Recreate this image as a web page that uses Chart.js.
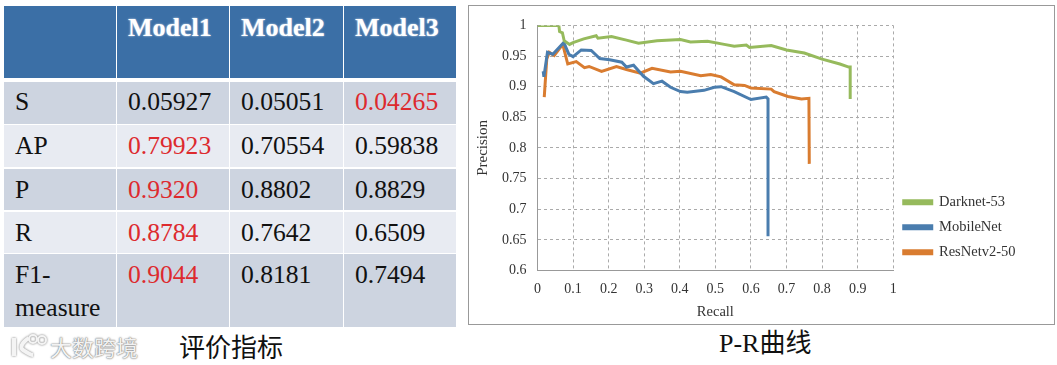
<!DOCTYPE html>
<html><head><meta charset="utf-8">
<script src="https://cdn.jsdelivr.net/npm/chart.js@4/dist/chart.umd.min.js"></script>
<style>
html,body{margin:0;padding:0;background:#fff;width:1057px;height:365px;overflow:hidden}
body{position:relative;font-family:"Liberation Serif",serif}
#tbl div{position:absolute;box-sizing:border-box;font-size:25.6px;line-height:33px;color:#111;padding:3px 6px 0 11px;background:#CDD4E0}
#tbl .h{background:#3B6FA6;color:#fff;font-weight:bold;font-size:26px;padding-top:5px;text-shadow:0 0 2px #dfe8f3}
#tbl .alt{background:#E8EBF2}
#tbl .r{color:#DD2A2E}
#frame{position:absolute;left:468px;top:5px;width:585px;height:318px;border:1.5px solid #999;background:#fff}
#frame canvas{display:block}
.cap{position:absolute;font-size:26px;color:#111;font-family:"Liberation Serif","Noto Sans CJK SC",serif;white-space:nowrap;line-height:30px}
#wm{position:absolute;left:50px;top:333px;font:22px/26px "Noto Sans CJK SC",sans-serif;color:#f2f2f2;text-shadow:0 0 2px #777,0 0 1px #777;white-space:nowrap}
#logo{position:absolute;left:9px;top:332px}
</style></head><body>
<div id="tbl"></div>
<div id="frame"><canvas id="c" width="585" height="318"></canvas></div>
<div class="cap" style="left:179px;top:334px">评价指标</div>
<div class="cap" style="left:719px;top:329px">P-R曲线</div>
<svg id="logo" width="44" height="28" fill="none" stroke="#f4f4f4" style="filter:drop-shadow(0 0 1px #777)"><path d="M5 6v18M20 6c-8 5-9 10-6 12s8 5 10 5" stroke-width="4"/><circle cx="24" cy="7" r="4" stroke-width="2"/><circle cx="33" cy="8" r="4" stroke-width="2"/></svg>
<div id="wm">大数跨境</div>
<script>
const modelNames = ["Model1","Model2","Model3"];
const metricNames = ["S","AP","P","R","F1-measure"];
const model1Scores = ["0.05927","0.79923","0.9320","0.8784","0.9044"];
const model2Scores = ["0.05051","0.70554","0.8802","0.7642","0.8181"];
const model3Scores = ["0.04265","0.59838","0.8829","0.6509","0.7494"];
const bestModelIndex = [2,0,0,0,0];

const seriesNames = ["Darknet-53","MobileNet","ResNetv2-50"];
const darknetRecall = [0,0.06,0.062,0.07,0.075,0.09,0.1,0.13,0.165,0.17,0.208,0.25,0.284,0.336,0.402,0.43,0.478,0.525,0.553,0.587,0.596,0.657,0.7,0.75,0.8,0.85,0.875,0.879,0.879];
const darknetPrecision = [1,1,0.99,0.988,0.975,0.969,0.972,0.978,0.983,0.979,0.982,0.976,0.971,0.975,0.977,0.973,0.974,0.969,0.966,0.968,0.964,0.967,0.96,0.955,0.945,0.937,0.932,0.932,0.88];
const mobileRecall = [0.016,0.018,0.028,0.043,0.074,0.088,0.1,0.123,0.151,0.175,0.203,0.237,0.25,0.27,0.298,0.326,0.35,0.374,0.402,0.421,0.468,0.497,0.516,0.553,0.6,0.643,0.648,0.648];
const mobilePrecision = [0.925,0.916,0.956,0.953,0.972,0.953,0.949,0.96,0.959,0.946,0.944,0.94,0.932,0.935,0.917,0.905,0.909,0.899,0.892,0.891,0.894,0.899,0.9,0.892,0.879,0.883,0.88,0.656];
const resnetRecall = [0.019,0.026,0.033,0.047,0.071,0.085,0.109,0.132,0.145,0.18,0.222,0.25,0.289,0.322,0.374,0.402,0.459,0.487,0.516,0.553,0.582,0.6,0.657,0.665,0.704,0.742,0.763,0.764];
const resnetPrecision = [0.883,0.945,0.956,0.951,0.969,0.937,0.941,0.931,0.933,0.925,0.933,0.928,0.922,0.93,0.924,0.925,0.918,0.92,0.916,0.903,0.902,0.898,0.896,0.892,0.884,0.88,0.881,0.774];
const seriesColors = ["#96BA5C","#4A7DAE","#D97C30"];

// table layout (page pixels)
const colEdges = [[4,116],[117,229],[230,343],[344,456]];
const rowEdges = [[6,78],[82,124],[125,167],[169,210],[212,253],[254,327]];
const tbl = document.getElementById('tbl');
function cell(t, cls, c, r){
  const d=document.createElement('div'); d.textContent=t; d.className=cls||'';
  d.style.left=colEdges[c][0]+'px'; d.style.width=(colEdges[c][1]-colEdges[c][0])+'px';
  d.style.top=rowEdges[r][0]+'px'; d.style.height=(rowEdges[r][1]-rowEdges[r][0])+'px';
  if(r>1) d.style.paddingTop='4px';
  tbl.appendChild(d);
}
cell('', 'h', 0, 0);
modelNames.forEach((m,j)=>cell(m,'h',j+1,0));
const scoreCols = [model1Scores,model2Scores,model3Scores];
metricNames.forEach((name,i)=>{
  const alt = i%2 ? 'alt' : '';
  cell(name, alt, 0, i+1);
  scoreCols.forEach((col,j)=>cell(col[i], alt+(bestModelIndex[i]===j?' r':''), j+1, i+1));
});

// chart
const toPts=(xs,ys)=>xs.map((x,i)=>({x,y:ys[i]}));
const xyData=[toPts(darknetRecall,darknetPrecision),toPts(mobileRecall,mobilePrecision),toPts(resnetRecall,resnetPrecision)];
const font={family:'"Liberation Serif",serif',size:14};
const fontColor='#333';
const raiseLegend={id:'raiseLegend',beforeDraw(chart){chart.legend.bottom-=54;}};
new Chart(document.getElementById('c'),{
  type:'scatter',
  plugins:[raiseLegend],
  data:{datasets:seriesNames.map((n,i)=>({label:n,data:xyData[i],showLine:true,borderColor:seriesColors[i],backgroundColor:seriesColors[i],borderWidth:3,pointRadius:0,tension:0}))},
  options:{
    responsive:false,animation:false,
    layout:{padding:{top:15.5,right:28.5,left:0,bottom:0}},
    plugins:{tooltip:{enabled:false},
      legend:{position:'right',align:'end',labels:{boxWidth:28,boxHeight:3,padding:10.5,color:fontColor,font:{family:font.family,size:14.5}}}},
    scales:{
      x:{type:'linear',min:0,max:1,
        afterFit(s){s.height=53.5},
        ticks:{stepSize:0.1,padding:10.5,maxRotation:0,color:fontColor,font,callback:v=>String(+v.toFixed(1))},
        grid:{color:'#aaa',drawTicks:false,tickLength:0},
        border:{color:'#999',dash:[3,3]},
        title:{display:true,text:'Recall',color:fontColor,font:{family:font.family,size:14.5},padding:{top:6,bottom:3.5}}},
      y:{min:0.6,max:1,
        afterFit(s){s.width=68.5},
        ticks:{stepSize:0.05,padding:11,color:fontColor,font,callback:v=>String(+v.toFixed(2))},
        grid:{color:'#aaa',drawTicks:false,tickLength:0},
        border:{color:'#999',dash:[3,3]},
        title:{display:true,text:'Precision',color:fontColor,font:{family:font.family,size:15},padding:{top:5,bottom:4}}}
    }
  }
});
</script>
</body></html>
